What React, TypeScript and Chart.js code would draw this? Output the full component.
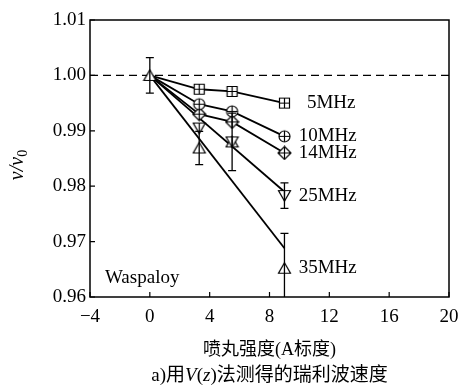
import { useEffect, useRef } from "react";
import { Chart, registerables } from "chart.js";
Chart.register(...registerables);

// ---- data ----
const shotX = [3.3, 5.5, 9];
const v5MHz = [0.9975, 0.9971, 0.995];
const v10MHz = [0.9948, 0.9935, 0.989];
const v14MHz = [0.993, 0.9916, 0.986];
const v25MHz = [0.9905, 0.988, 0.9783];
const v35MHz = [0.9869, 0.988, 0.9652];
const err25MHz = [0, 0, 0.0023];
const err35MHz = [0.003, 0.0052, 0.0063];
const originX = 0;
const originY = 1.0;
const originErr = 0.0032;
const fitEnd25 = 0.979;
const fitEnd35 = 0.9688;
const seriesNames = ["5MHz", "10MHz", "14MHz", "25MHz", "35MHz"];
const xTicks = [-4, 0, 4, 8, 12, 16, 20];
const yTicks = [0.96, 0.97, 0.98, 0.99, 1.0, 1.01];

const SERIF = "'Liberation Serif', 'Times New Roman', serif";
const CJK = "'Liberation Serif', 'Noto Sans CJK SC', serif";

function makeMarker(kind: string): HTMLCanvasElement {
  const c = document.createElement("canvas");
  c.width = 15;
  c.height = 15;
  const g = c.getContext("2d")!;
  g.fillStyle = "#fff";
  g.strokeStyle = "#000";
  g.lineWidth = 1.2;
  const m = 7.5;
  g.beginPath();
  if (kind === "sq") {
    g.rect(2.5, 2.5, 10, 10);
    g.fill();
    g.stroke();
    g.beginPath();
    g.moveTo(2.5, m);
    g.lineTo(12.5, m);
    g.moveTo(m, 2.5);
    g.lineTo(m, 12.5);
    g.stroke();
  } else if (kind === "circ") {
    g.arc(m, m, 5.5, 0, Math.PI * 2);
    g.fill();
    g.stroke();
    g.beginPath();
    g.moveTo(2, m);
    g.lineTo(13, m);
    g.moveTo(m, 2);
    g.lineTo(m, 13);
    g.stroke();
  } else if (kind === "dia") {
    g.moveTo(m, 1);
    g.lineTo(14, m);
    g.lineTo(m, 14);
    g.lineTo(1, m);
    g.closePath();
    g.fill();
    g.stroke();
    g.beginPath();
    g.moveTo(1, m);
    g.lineTo(14, m);
    g.moveTo(m, 1);
    g.lineTo(m, 14);
    g.stroke();
  } else if (kind === "tdown") {
    g.moveTo(1.5, 2.5);
    g.lineTo(13.5, 2.5);
    g.lineTo(m, 13);
    g.closePath();
    g.fill();
    g.stroke();
    g.beginPath();
    g.moveTo(m, 2.5);
    g.lineTo(m, 13);
    g.stroke();
  } else {
    g.moveTo(m, 2);
    g.lineTo(13.5, 12.5);
    g.lineTo(1.5, 12.5);
    g.closePath();
    g.fill();
    g.stroke();
  }
  return c;
}

export default function App() {
  const ref = useRef<HTMLCanvasElement | null>(null);

  useEffect(() => {
    document.body.style.margin = "0";
    const canvas = ref.current!;
    const mk = {
      sq: makeMarker("sq"),
      circ: makeMarker("circ"),
      dia: makeMarker("dia"),
      tdown: makeMarker("tdown"),
      tup: makeMarker("tup"),
    };
    const pts = (ys: number[]) => shotX.map((x, i) => ({ x, y: ys[i] }));
    const withOrigin = (ys: number[]) => [{ x: originX, y: originY }, ...pts(ys)];

    const markerDs = (ys: number[], style: HTMLCanvasElement, errs: number[] | null) => ({
      type: "scatter" as const,
      data: pts(ys),
      showLine: false,
      pointStyle: style,
      pointRadius: 7,
      order: 0,
      errs,
    });
    const lineDs = (data: { x: number; y: number }[]) => ({
      type: "line" as const,
      data,
      borderColor: "#000",
      borderWidth: 1.8,
      pointRadius: 0,
      tension: 0,
      order: 2,
    });

    const datasets: any[] = [
      markerDs(v5MHz, mk.sq, null),
      markerDs(v10MHz, mk.circ, null),
      markerDs(v14MHz, mk.dia, null),
      markerDs(v25MHz, mk.tdown, err25MHz),
      markerDs(v35MHz, mk.tup, err35MHz),
      {
        type: "scatter",
        data: [{ x: originX, y: originY }],
        showLine: false,
        pointStyle: mk.tup,
        pointRadius: 7,
        order: 0,
        errs: [originErr],
      },
      lineDs(withOrigin(v5MHz)),
      lineDs(withOrigin(v10MHz)),
      lineDs(withOrigin(v14MHz)),
      lineDs([{ x: originX, y: originY }, { x: shotX[2], y: fitEnd25 }]),
      lineDs([{ x: originX, y: originY }, { x: shotX[2], y: fitEnd35 }]),
      {
        type: "line",
        data: [{ x: -4, y: 1.0 }, { x: 20, y: 1.0 }],
        borderColor: "#000",
        borderWidth: 1.3,
        borderDash: [8, 5],
        pointRadius: 0,
        order: 3,
      },
    ];

    const seriesLast = [v5MHz, v10MHz, v14MHz, v25MHz, v35MHz].map((a) => a[2]);

    const deco = {
      id: "deco",
      afterDatasetsDraw(chart: any) {
        const ctx = chart.ctx;
        const xs = chart.scales.x;
        const ys = chart.scales.y;
        const a = chart.chartArea;
        ctx.save();
        ctx.beginPath();
        ctx.rect(a.left, a.top, a.right - a.left, a.bottom - a.top);
        ctx.clip();
        ctx.strokeStyle = "#000";
        ctx.lineWidth = 1.3;
        chart.data.datasets.forEach((ds: any) => {
          if (!ds.errs) return;
          ds.data.forEach((p: any, i: number) => {
            const e = ds.errs[i];
            if (!e) return;
            const px = xs.getPixelForValue(p.x);
            const t = ys.getPixelForValue(p.y + e);
            const b = ys.getPixelForValue(p.y - e);
            ctx.beginPath();
            ctx.moveTo(px, t);
            ctx.lineTo(px, b);
            ctx.moveTo(px - 4, t);
            ctx.lineTo(px + 4, t);
            ctx.moveTo(px - 4, b);
            ctx.lineTo(px + 4, b);
            ctx.stroke();
          });
        });
        ctx.restore();
      },
      afterDraw(chart: any) {
        const ctx = chart.ctx;
        const xs = chart.scales.x;
        const ys = chart.scales.y;
        const a = chart.chartArea;
        ctx.save();
        ctx.strokeStyle = "#000";
        ctx.lineWidth = 1.5;
        ctx.strokeRect(a.left, a.top, a.right - a.left, a.bottom - a.top);
        ctx.lineWidth = 1.2;
        ctx.beginPath();
        xTicks.forEach((v) => {
          const px = xs.getPixelForValue(v);
          ctx.moveTo(px, a.bottom);
          ctx.lineTo(px, a.bottom - 5);
        });
        yTicks.forEach((v) => {
          const py = ys.getPixelForValue(v);
          ctx.moveTo(a.left, py);
          ctx.lineTo(a.left + 5, py);
        });
        ctx.stroke();

        ctx.fillStyle = "#000";
        ctx.font = `19px ${SERIF}`;
        ctx.textBaseline = "middle";
        ctx.textAlign = "left";
        seriesNames.forEach((n, i) => {
          const lx = i === 0 ? 10.5 : 9.95;
          ctx.fillText(n, xs.getPixelForValue(lx), ys.getPixelForValue(seriesLast[i]));
        });
        ctx.fillText("Waspaloy", xs.getPixelForValue(-3), ys.getPixelForValue(0.9634));

        // x title
        ctx.textAlign = "center";
        ctx.font = `18px ${CJK}`;
        ctx.fillText("喷丸强度(A标度)", (a.left + a.right) / 2, 350);

        // caption with italic segments
        const segs: [string, boolean][] = [
          ["a)用", false],
          ["V", true],
          ["(", false],
          ["z", true],
          [")法测得的瑞利波速度", false],
        ];
        const fontN = `19px ${CJK}`;
        const fontI = `italic 19px ${CJK}`;
        let total = 0;
        segs.forEach(([s, it]) => {
          ctx.font = it ? fontI : fontN;
          total += ctx.measureText(s).width;
        });
        let cx = (a.left + a.right) / 2 - total / 2;
        ctx.textAlign = "left";
        segs.forEach(([s, it]) => {
          ctx.font = it ? fontI : fontN;
          ctx.fillText(s, cx, 376);
          cx += ctx.measureText(s).width;
        });

        // y title
        ctx.translate(18, 165);
        ctx.rotate(-Math.PI / 2);
        const main = "v/v";
        ctx.font = `italic 20px ${SERIF}`;
        const wm = ctx.measureText(main).width;
        ctx.font = `14px ${SERIF}`;
        const ws = ctx.measureText("0").width;
        const start = -(wm + ws) / 2;
        ctx.textAlign = "left";
        ctx.font = `italic 20px ${SERIF}`;
        ctx.fillText(main, start, 0);
        ctx.font = `14px ${SERIF}`;
        ctx.fillText("0", start + wm, 5);
        ctx.restore();
      },
    };

    const chart = new Chart(canvas, {
      type: "scatter",
      data: { datasets },
      options: {
        animation: false,
        responsive: false,
        layout: { padding: { top: 20, right: 9, left: 0, bottom: 0 } },
        plugins: { legend: { display: false }, tooltip: { enabled: false } },
        scales: {
          x: {
            type: "linear",
            min: -4,
            max: 20,
            afterBuildTicks: (s: any) => {
              s.ticks = xTicks.map((v) => ({ value: v }));
            },
            afterFit: (s: any) => {
              s.height = 95;
              s.paddingLeft = 0;
              s.paddingRight = 0;
            },
            grid: { display: false, drawTicks: false },
            border: { display: false },
            ticks: {
              color: "#000",
              padding: 9,
              font: { size: 19, family: SERIF },
              callback: (v: any) => (v < 0 ? "\u2212" + Math.abs(v) : String(v)),
            },
          },
          y: {
            type: "linear",
            min: 0.96,
            max: 1.01,
            afterBuildTicks: (s: any) => {
              s.ticks = yTicks.map((v) => ({ value: v }));
            },
            afterFit: (s: any) => {
              s.width = 90;
              s.paddingTop = 0;
              s.paddingBottom = 0;
            },
            grid: { display: false, drawTicks: false },
            border: { display: false },
            ticks: {
              color: "#000",
              padding: 4,
              font: { size: 19, family: SERIF },
              callback: (v: any) => Number(v).toFixed(2),
            },
          },
        },
      },
      plugins: [deco],
    });
    return () => chart.destroy();
  }, []);

  return (
    <div style={{ width: 458, height: 392 }}>
      <canvas ref={ref} width={458} height={392} style={{ display: "block" }} />
    </div>
  );
}
